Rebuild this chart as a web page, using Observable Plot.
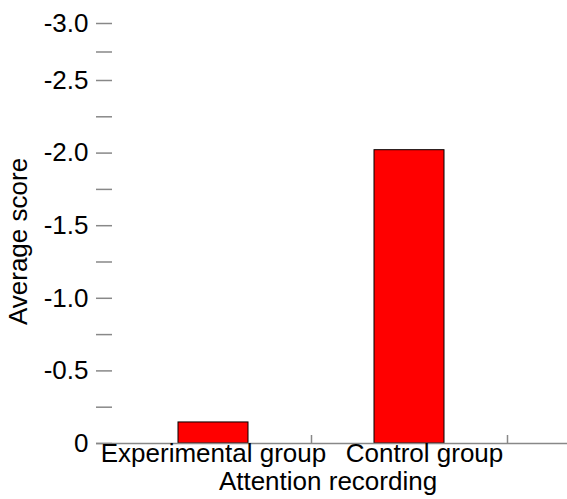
<!DOCTYPE html>
<html>
<head>
<meta charset="utf-8">
<script src="https://cdn.jsdelivr.net/npm/d3@7"></script>
<script src="https://cdn.jsdelivr.net/npm/@observablehq/plot@0.6"></script>
<style>
  html, body { margin: 0; padding: 0; background: #fff; }
  svg { display: block; }
</style>
</head>
<body>
<div id="chart"></div>
<script>
const categories = ["Experimental group", "Control group"];
const values = [-0.145, -2.02];
const majorTicks = [0, -0.5, -1.0, -1.5, -2.0, -2.5, -3.0];
const minorTicks = [-0.25, -0.75, -1.25, -1.75, -2.25, -2.75];
const yLabel = "Average score";
const xLabel = "Attention recording";

const fmt = d => d === 0 ? "0" : d.toFixed(1);
const axisColor = "#888888";
const font = "Liberation Sans, Arial, sans-serif";

// the reference axis is compressed above -2.5
const K = 0.785;
const yT = v => v >= -2.5 ? v : -2.5 + (v + 2.5) * K;
const yInv = v => v >= -2.5 ? v : -2.5 + (v + 2.5) / K;

const data = categories.map((c, i) => ({category: c, value: yT(values[i])}));

const chart = Plot.plot({
  width: 567,
  height: 499,
  marginLeft: 96,
  marginRight: 0,
  marginTop: 23,
  marginBottom: 56,
  style: {fontFamily: font, fontSize: "26px", background: "#fff", overflow: "visible"},
  x: {domain: categories, paddingInner: 0.643, paddingOuter: 0.523, align: 0.4, axis: null},
  y: {domain: [0, yT(-3.0)], axis: null},
  marks: [
    Plot.barY(data, {x: "category", y: "value", fill: "#ff0000", stroke: "#000", strokeWidth: 1}),
    Plot.ruleY([0], {stroke: axisColor, strokeWidth: 1.5}),
    Plot.axisY({ticks: [...majorTicks, ...minorTicks].map(yT), tickSize: -16, text: null, line: true, stroke: axisColor, strokeWidth: 1.5, strokeOpacity: 1, label: null}),
    Plot.axisY({ticks: majorTicks.map(yT), tickSize: 0, tickPadding: 8, tickFormat: v => fmt(Math.round(yInv(v) * 100) / 100), fill: "#000", fontSize: 26, label: null}),
    Plot.axisX({tickSize: -8, text: null, dx: 98, stroke: axisColor, strokeWidth: 1.5, strokeOpacity: 1, label: null}),
    Plot.text([categories[0]], {x: d => d, frameAnchor: "bottom", dy: 18, fontSize: 26, fill: "#000"}),
    Plot.text([categories[1]], {x: d => d, frameAnchor: "bottom", dy: 18, dx: 15, fontSize: 26, fill: "#000"}),
    Plot.text([xLabel], {frameAnchor: "bottom", dy: 46, dx: -4, fontSize: 26, fill: "#000"}),
    Plot.text([yLabel], {frameAnchor: "left", textAnchor: "middle", rotate: -90, dx: -78, dy: 8, fontSize: 26, fill: "#000"})
  ]
});
document.getElementById("chart").appendChild(chart);
</script>
</body>
</html>
